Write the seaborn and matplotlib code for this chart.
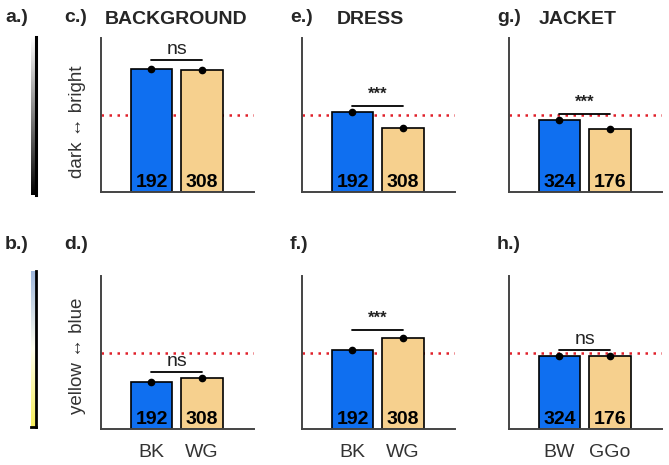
import numpy as np
import pandas as pd
import matplotlib
matplotlib.use("Agg")
import matplotlib.pyplot as plt
import seaborn as sns
from matplotlib.colors import LinearSegmentedColormap

sns.set_style("white")
plt.rcParams['font.family'] = ['Liberation Sans', 'DejaVu Sans']

# ---------------- data ----------------
titles = ['BACKGROUND', 'DRESS', 'JACKET']
group_labels = [['BK', 'WG'], ['BK', 'WG'], ['BW', 'GGo']]
brightness = [[0.797, 0.792], [0.519, 0.416], [0.468, 0.409]]
blueness = [[0.307, 0.333], [0.516, 0.595], [0.477, 0.477]]
counts = [[192, 308], [192, 308], [324, 176]]
sig_top = ['ns', '***', '***']
sig_bottom = ['ns', '***', 'ns']
sig_line_top = [0.857, 0.558, 0.506]
sig_line_bottom = [0.373, 0.647, 0.516]
reference_level = 0.5
letters_top = ['c.)', 'e.)', 'g.)']
letters_bottom = ['d.)', 'f.)', 'h.)']

BLUE = '#0F6FF0'
TAN = '#F6D08E'
GRAY = '#444444'

W, H = 669, 465
fig = plt.figure(figsize=(W / 100, H / 100), dpi=100)


def px_axes(left, top, right, bottom):
    return fig.add_axes([left / W, (H - bottom) / H, (right - left) / W, (bottom - top) / H])


col_left = [101, 302, 509]
col_w = 153
rows = [(38, 192), (276, 429)]


def draw_panel(ax, vals, labels, ns, sig, sig_y, show_xlabels):
    df = pd.DataFrame({'group': ['A', 'B'], 'value': vals})
    ax.axhline(reference_level, color='#E0202A', lw=1.8, ls=(0, (1, 2.2)), zorder=0)
    sns.barplot(data=df, x='group', y='value', hue='group', palette=[BLUE, TAN],
                saturation=1, width=0.82, edgecolor='black', linewidth=1.2,
                legend=False, ax=ax, zorder=2, errorbar=None)
    ax.plot([0, 1], vals, 'o', color='black', ms=4.5, zorder=4, ls='none')
    for i, n in enumerate(ns):
        ax.text(i, 0.03, str(n), ha='center', va='baseline', fontsize=14,
                fontweight='bold', color='black', zorder=5)
    ax.plot([0, 1], [sig_y, sig_y], color='black', lw=1.3, zorder=3)
    if sig == 'ns':
        ax.text(0.5, sig_y + 0.015, sig, ha='center', va='bottom', fontsize=14, color='#222222')
    else:
        ax.text(0.5, sig_y + 0.03, sig, ha='center', va='bottom', fontsize=12,
                fontweight='bold', color='#222222')
    ax.set_xlim(-1.0, 2.03)
    ax.set_ylim(0, 1)
    ax.set_yticks([1])
    ax.set_yticklabels([])
    ax.set_xlabel('')
    ax.set_ylabel('')
    ax.set_xticks([0, 1])
    if show_xlabels:
        ax.set_xticklabels(labels, fontsize=14, color='#333333')
    else:
        ax.set_xticklabels([])
    ax.tick_params(axis='both', length=3, width=1, color=GRAY, pad=8)
    for s in ['top', 'right']:
        ax.spines[s].set_visible(False)
    for s in ['left', 'bottom']:
        ax.spines[s].set_color(GRAY)
        ax.spines[s].set_linewidth(1.4)


for c in range(3):
    top, bottom = rows[0]
    ax = px_axes(col_left[c], top, col_left[c] + col_w, bottom)
    draw_panel(ax, brightness[c], group_labels[c], counts[c], sig_top[c], sig_line_top[c], False)
    top, bottom = rows[1]
    ax = px_axes(col_left[c], top, col_left[c] + col_w, bottom)
    draw_panel(ax, blueness[c], group_labels[c], counts[c], sig_bottom[c], sig_line_bottom[c], True)

# gradient bars
grad = np.linspace(0, 1, 256).reshape(-1, 1)
cax = px_axes(31, 37, 36, 195)
cax.imshow(grad, aspect='auto', origin='lower',
           cmap=LinearSegmentedColormap.from_list('bw', ['#000000', '#ffffff']), extent=[0, 1, 0, 1])
cax.set_xticks([]); cax.set_yticks([])
for s in ['top', 'left', 'bottom']:
    cax.spines[s].set_visible(False)
cax.spines['right'].set_linewidth(2.2)
cax.spines['right'].set_color('black')

cax2 = px_axes(31, 271, 36, 427)
cax2.imshow(grad, aspect='auto', origin='lower',
            cmap=LinearSegmentedColormap.from_list('yb', ['#F5EC5A', '#FFFFF0', '#9DB6DC']),
            extent=[0, 1, 0, 1])
cax2.set_xticks([]); cax2.set_yticks([])
for s in ['top', 'left']:
    cax2.spines[s].set_visible(False)
for s in ['right', 'bottom']:
    cax2.spines[s].set_linewidth(2.0)
    cax2.spines[s].set_color('black')


def ftext(x, y, s, **kw):
    fig.text(x / W, (H - y) / H, s, **kw)


ftext(5, 17, 'a.)', fontsize=14, fontweight='bold', va='center', ha='left')
ftext(5, 244, 'b.)', fontsize=14, fontweight='bold', va='center', ha='left')
for c, lx in enumerate([64, 290, 497]):
    ftext(lx, 18, letters_top[c], fontsize=14, fontweight='bold', va='center', ha='left')
    ftext(lx, 244, letters_bottom[c], fontsize=14, fontweight='bold', va='center', ha='left')
for c, tx in enumerate([176, 370, 578]):
    ftext(tx, 20, titles[c], fontsize=14, fontweight='bold', va='center', ha='center')

ftext(78, 122, 'dark ↔ bright', fontsize=13.5, rotation=90, va='center', ha='center', color='#333333')
ftext(78, 356, 'yellow ↔ blue', fontsize=13.5, rotation=90, va='center', ha='center', color='#333333')

fig.savefig('out.png', dpi=100)
